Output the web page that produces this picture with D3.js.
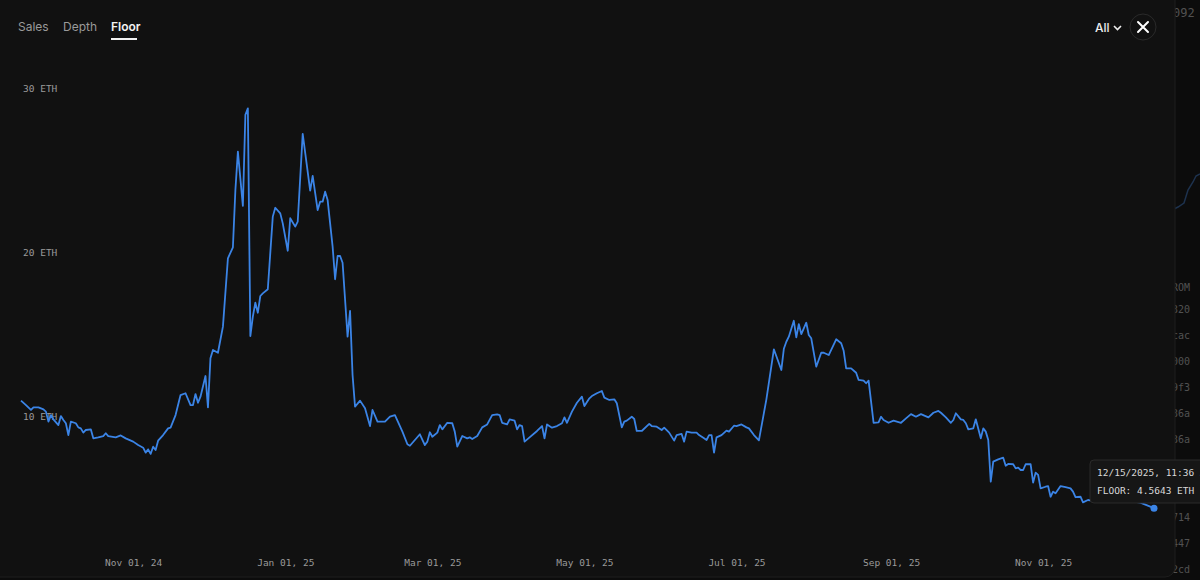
<!DOCTYPE html>
<html>
<head>
<meta charset="utf-8">
<script src="https://cdn.jsdelivr.net/npm/d3@7"></script>
<style>
  html, body { margin: 0; padding: 0; background: #0c0c0c; }
  svg { display: block; }
  .tab { font-family: Inter, "Noto Sans", sans-serif; font-size: 12px; }
  .mono { font-family: "DejaVu Sans Mono", monospace; }
</style>
</head>
<body>
<div id="chart"></div>
<script>
// floor price history (ETH)
var dates = [
  "2024-09-17","2024-09-19","2024-09-21","2024-09-22","2024-09-24","2024-09-26","2024-09-27","2024-09-28","2024-09-29","2024-09-30",
  "2024-10-02","2024-10-03","2024-10-04","2024-10-05","2024-10-06","2024-10-07","2024-10-09","2024-10-10","2024-10-11","2024-10-12",
  "2024-10-13","2024-10-15","2024-10-16","2024-10-18","2024-10-20","2024-10-21","2024-10-22","2024-10-25","2024-10-27","2024-10-29",
  "2024-11-01","2024-11-03","2024-11-05","2024-11-06","2024-11-07","2024-11-08","2024-11-09","2024-11-10","2024-11-11","2024-11-13",
  "2024-11-15","2024-11-16","2024-11-18","2024-11-20","2024-11-22","2024-11-24","2024-11-25","2024-11-26","2024-11-27","2024-11-28",
  "2024-11-30","2024-12-01","2024-12-02","2024-12-03","2024-12-05","2024-12-07","2024-12-09","2024-12-11","2024-12-12","2024-12-13",
  "2024-12-15","2024-12-16","2024-12-17","2024-12-18","2024-12-19","2024-12-20","2024-12-21","2024-12-22","2024-12-23","2024-12-25",
  "2024-12-27","2024-12-28","2024-12-30","2024-12-31","2025-01-02","2025-01-03","2025-01-05","2025-01-06","2025-01-08","2025-01-11",
  "2025-01-12","2025-01-14","2025-01-15","2025-01-16","2025-01-17","2025-01-18","2025-01-20","2025-01-21","2025-01-22","2025-01-23",
  "2025-01-24","2025-01-26","2025-01-27","2025-01-28","2025-01-29","2025-01-31","2025-02-02","2025-02-04","2025-02-05","2025-02-07",
  "2025-02-10","2025-02-12","2025-02-14","2025-02-17","2025-02-19","2025-02-20","2025-02-24","2025-02-26","2025-02-27","2025-02-28",
  "2025-03-01","2025-03-03","2025-03-04","2025-03-05","2025-03-07","2025-03-09","2025-03-10","2025-03-11","2025-03-13","2025-03-15",
  "2025-03-16","2025-03-17","2025-03-19","2025-03-21","2025-03-23","2025-03-25","2025-03-27","2025-03-28","2025-03-29","2025-03-31",
  "2025-04-01","2025-04-03","2025-04-04","2025-04-05","2025-04-06","2025-04-07","2025-04-09","2025-04-12","2025-04-14","2025-04-15",
  "2025-04-16","2025-04-18","2025-04-20","2025-04-22","2025-04-23","2025-04-24","2025-04-26","2025-04-28","2025-04-30","2025-05-01",
  "2025-05-03","2025-05-04","2025-05-06","2025-05-08","2025-05-09","2025-05-11","2025-05-13","2025-05-14","2025-05-16","2025-05-17",
  "2025-05-18","2025-05-20","2025-05-21","2025-05-22","2025-05-24","2025-05-27","2025-05-28","2025-05-30","2025-06-01","2025-06-02",
  "2025-06-04","2025-06-06","2025-06-07","2025-06-09","2025-06-10","2025-06-11","2025-06-13","2025-06-15","2025-06-16","2025-06-18",
  "2025-06-19","2025-06-20","2025-06-21","2025-06-22","2025-06-23","2025-06-25","2025-06-27","2025-06-28","2025-06-30","2025-07-01",
  "2025-07-03","2025-07-05","2025-07-06","2025-07-08","2025-07-10","2025-07-13","2025-07-16","2025-07-19","2025-07-20","2025-07-21",
  "2025-07-22","2025-07-24","2025-07-25","2025-07-26","2025-07-27","2025-07-29","2025-07-30","2025-07-31","2025-08-02","2025-08-04",
  "2025-08-05","2025-08-07","2025-08-10","2025-08-12","2025-08-13","2025-08-14","2025-08-16","2025-08-18","2025-08-19","2025-08-21",
  "2025-08-22","2025-08-23","2025-08-25","2025-08-27","2025-08-28","2025-08-29","2025-08-31","2025-09-02","2025-09-05","2025-09-07",
  "2025-09-09","2025-09-11","2025-09-13","2025-09-16","2025-09-18","2025-09-20","2025-09-21","2025-09-23","2025-09-25","2025-09-26",
  "2025-09-27","2025-09-29","2025-09-30","2025-10-01","2025-10-02","2025-10-04","2025-10-05","2025-10-07","2025-10-08","2025-10-09",
  "2025-10-10","2025-10-11","2025-10-12","2025-10-14","2025-10-16","2025-10-17","2025-10-18","2025-10-20","2025-10-21","2025-10-22",
  "2025-10-23","2025-10-24","2025-10-25","2025-10-27","2025-10-28","2025-10-29","2025-10-30","2025-10-31","2025-11-02","2025-11-03",
  "2025-11-04","2025-11-05","2025-11-06","2025-11-08","2025-11-10","2025-11-12","2025-11-13","2025-11-14","2025-11-16","2025-11-17",
  "2025-11-19","2025-11-22","2025-11-26","2025-11-30","2025-12-04","2025-12-08","2025-12-10","2025-12-15T11:36"
];
var floor = [
  11.12,10.85,10.55,10.71,10.71,10.59,10.45,9.84,10.24,9.98,
  9.63,10.18,9.94,9.74,9.02,9.84,9.74,9.49,9.43,9.17,
  9.33,9.37,8.82,8.88,8.96,9.13,8.96,8.88,9.0,8.82,
  8.62,8.41,8.25,7.95,8.15,7.87,8.31,8.11,8.68,9.02,
  9.43,9.47,10.24,11.46,11.57,10.85,10.85,11.52,10.99,11.36,
  12.62,10.71,13.70,14.21,14.04,15.63,19.80,20.47,23.96,26.30,
  22.99,28.54,28.94,15.06,16.24,17.09,16.48,17.50,17.66,17.91,
  22.34,22.88,22.54,21.93,20.26,22.24,21.73,22.03,27.38,23.92,
  24.82,22.74,23.25,23.25,23.86,23.35,20.51,18.52,19.94,19.94,
  19.53,15.02,16.59,12.68,10.75,11.12,10.65,9.57,10.55,9.84,
  9.84,10.14,10.24,9.23,8.46,8.37,9.07,8.41,8.62,9.19,
  8.92,9.17,9.63,9.37,9.77,9.74,9.23,8.31,8.96,8.82,
  8.88,8.78,8.96,9.49,9.67,10.24,10.28,10.24,9.77,9.67,
  9.98,9.90,9.37,9.63,9.57,8.62,8.88,9.27,9.57,8.82,
  9.67,9.47,9.57,9.74,10.10,9.77,10.45,10.99,11.36,10.79,
  11.26,11.40,11.57,11.71,11.30,11.16,11.20,10.96,9.49,9.84,
  9.90,10.14,10.00,9.27,9.27,9.70,9.57,9.53,9.33,9.47,
  9.17,8.68,9.02,9.09,8.62,9.23,9.17,9.17,9.02,8.82,
  8.72,9.02,9.02,7.95,8.88,9.02,9.29,9.23,9.59,9.57,
  9.67,9.49,9.43,9.02,8.70,11.20,14.25,12.99,14.28,14.71,
  15.02,15.99,14.98,15.79,15.18,15.87,15.12,14.92,13.19,14.04,
  14.04,13.90,14.86,14.62,14.16,13.09,13.09,12.82,12.38,12.34,
  12.18,12.34,9.77,9.80,10.14,9.94,9.77,9.90,9.77,10.04,
  10.30,10.14,10.30,10.10,10.38,10.49,10.38,10.10,9.77,9.94,
  10.35,9.98,9.94,9.74,9.37,9.43,9.98,8.82,9.43,9.23,
  8.72,6.18,7.40,7.54,7.64,7.15,7.26,7.24,6.99,7.03,
  6.89,6.89,7.24,7.24,6.12,6.73,6.59,5.77,5.87,5.91,
  5.26,5.57,5.47,5.91,5.84,5.77,5.57,5.23,5.26,4.92,
  5.06,5.00,5.10,4.95,5.05,4.95,4.90,4.5643
];
var yTicks = [10, 20, 30];
var xTickDates = ["2024-11-01","2025-01-01","2025-03-01","2025-05-01","2025-07-01","2025-09-01","2025-11-01"];
var tabs = ["Sales", "Depth", "Floor"];
var bgLabels = ["ROM","320","cac","000","9f3","36a","36a","714","447","2cd"];

var width = 1200, height = 580;
var parseDay = function (s) { return new Date(s.length > 10 ? s : s + "T00:00"); };

var points = dates.map(function (d, i) { return { date: parseDay(d), value: floor[i] }; });

var svg = d3.select("#chart").append("svg")
    .attr("width", width)
    .attr("height", height);

// page behind the modal
svg.append("rect").attr("width", width).attr("height", height).attr("fill", "#0c0c0c");

var bg = svg.append("g").attr("opacity", 0.55);
bg.append("text").attr("class", "mono").attr("x", 1173).attr("y", 17)
    .attr("fill", "#8a8a8a").attr("font-size", 12).text("092 ·");
var bgY = [287, 309, 335, 361, 387, 413, 439, 517, 543, 569];
bg.selectAll("text.bgl").data(bgLabels).enter().append("text")
    .attr("class", "mono bgl")
    .attr("x", 1172)
    .attr("y", function (d, i) { return bgY[i]; })
    .attr("dy", "0.35em")
    .attr("fill", "#8a8a8a")
    .attr("font-size", 10)
    .text(function (d) { return d; });
bg.append("path").attr("d", "M1172,210 L1178,207 L1184,203 L1188,190 L1193,182 L1196,176 L1200,174")
    .attr("fill", "none").attr("stroke", "#3a6fb8").attr("stroke-width", 1.5).attr("opacity", 0.7);

// modal panel
svg.append("rect")
    .attr("x", -10).attr("y", -10)
    .attr("width", 1185).attr("height", 587)
    .attr("rx", 10)
    .attr("fill", "#111111")
    .attr("stroke", "#1e1e1e");

// tabs
var tabX = [18, 63, 111];
svg.selectAll("text.tab").data(tabs).enter().append("text")
    .attr("class", "tab")
    .attr("x", function (d, i) { return tabX[i]; })
    .attr("y", 31)
    .attr("fill", function (d) { return d === "Floor" ? "#f2f2f2" : "#9a9a9a"; })
    .attr("font-weight", function (d) { return d === "Floor" ? 600 : 400; })
    .text(function (d) { return d; });
svg.append("rect").attr("x", 111).attr("y", 38).attr("width", 26).attr("height", 2).attr("fill", "#f2f2f2");

// range picker and close button
svg.append("text").attr("class", "tab").attr("x", 1095).attr("y", 32)
    .attr("fill", "#eeeeee").attr("font-weight", 500).text("All");
svg.append("path").attr("d", "M1114,26 L1117.5,29.5 L1121,26")
    .attr("fill", "none").attr("stroke", "#eeeeee").attr("stroke-width", 1.6);
svg.append("circle").attr("cx", 1143).attr("cy", 27).attr("r", 13)
    .attr("fill", "#111111").attr("stroke", "#2a2a2a");
svg.append("path").attr("d", "M1138,22 L1148,32 M1148,22 L1138,32")
    .attr("stroke", "#ffffff").attr("stroke-width", 2).attr("stroke-linecap", "round");

// scales
var x = d3.scaleTime()
    .domain(d3.extent(points, function (d) { return d.date; }))
    .range([21, 1154]);
var y = d3.scaleLinear()
    .domain([0, 30])
    .range([583, 91]);

// y axis labels
var yAxis = svg.append("g")
    .attr("transform", "translate(23,-3)")
    .call(d3.axisRight(y).tickValues(yTicks).tickSize(0).tickPadding(0)
        .tickFormat(function (d) { return d + " ETH"; }));
yAxis.select(".domain").remove();
yAxis.selectAll("text").attr("class", "mono").attr("font-size", 9.5).attr("fill", "#9a9a9a");

// x axis labels
var xAxis = svg.append("g")
    .attr("transform", "translate(0,559)")
    .call(d3.axisBottom(x).tickValues(xTickDates.map(parseDay)).tickSize(0).tickPadding(0)
        .tickFormat(d3.timeFormat("%b %d, %y")));
xAxis.select(".domain").remove();
xAxis.selectAll("text").attr("class", "mono").attr("font-size", 9.5).attr("fill", "#9a9a9a");

// floor line
var line = d3.line()
    .x(function (d) { return x(d.date); })
    .y(function (d) { return y(d.value); });

svg.append("path")
    .datum(points)
    .attr("fill", "none")
    .attr("stroke", "#3b84e6")
    .attr("stroke-width", 1.8)
    .attr("stroke-linejoin", "round")
    .attr("d", line);

var last = points[points.length - 1];
svg.append("circle")
    .attr("cx", x(last.date)).attr("cy", y(last.value))
    .attr("r", 3.5).attr("fill", "#3b84e6");

// tooltip
var tip = svg.append("g").attr("transform", "translate(1090,460)");
tip.append("rect").attr("width", 130).attr("height", 43).attr("rx", 4)
    .attr("fill", "#161616").attr("stroke", "#2a2a2a");
tip.append("text").attr("class", "mono").attr("x", 7).attr("y", 16)
    .attr("font-size", 9.5).attr("fill", "#d8d8d8")
    .text(d3.timeFormat("%m/%d/%Y, %H:%M")(last.date) + " AM");
tip.append("text").attr("class", "mono").attr("x", 7).attr("y", 34)
    .attr("font-size", 9.5).attr("fill", "#d8d8d8")
    .text("FLOOR: " + last.value.toFixed(4) + " ETH");
</script>
</body>
</html>
